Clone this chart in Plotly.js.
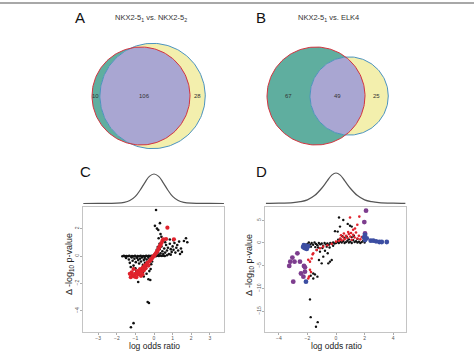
<!DOCTYPE html>
<html>
<head>
<meta charset="utf-8">
<script src="https://cdn.plot.ly/plotly-3.0.1.min.js"></script>
<style>html,body{margin:0;padding:0;background:#fff;}#chart{width:474px;height:352px;}</style>
</head>
<body>
<div id="chart"></div>
<script>
// ---------- DATA ----------
const vennACounts = [10, 106, 28];          // only set1, both, only set2
const vennBCounts = [67, 49, 25];
const vennATitle = "NKX2-5<sub>1</sub> vs. NKX2-5<sub>2</sub>";
const vennBTitle = "NKX2-5<sub>1</sub> vs. ELK4";
const panelLetters = ["A", "B", "C", "D"];

const cXTicks = [-3, -2, -1, 0, 1, 2, 3];
const cYTicks = [-4, -2, 0, 2];
const dXTicks = [-4, -2, 0, 2, 4];
const dYTicks = [-15, -10, -5, 0, 5];

const densCX = [-3.8,-3,-2,-1.6,-1.3,-1,-0.75,-0.5,-0.25,0,0.25,0.5,0.75,1,1.3,1.6,2,3,3.76];
const densCY = [0,0.002,0.012,0.04,0.1,0.24,0.45,0.7,0.92,1,0.92,0.7,0.45,0.24,0.1,0.04,0.012,0.002,0];
const densDX = [-4.9,-4,-3,-2.5,-2,-1.5,-1,-0.6,-0.3,0,0.3,0.6,1,1.5,2,2.5,3,4,4.85];
const densDY = [0.005,0.01,0.03,0.06,0.12,0.26,0.5,0.75,0.93,1,0.93,0.75,0.5,0.26,0.12,0.06,0.03,0.01,0.005];

const cBlack = [
 [-1.7,-0.02],[-1.62,0.01],[-1.55,-0.03],[-1.48,0.0],[-1.4,-0.02],[-1.33,0.02],[-1.25,-0.04],[-1.18,0.0],
 [-1.1,-0.03],[-1.02,0.01],[-0.95,-0.05],[-0.88,0.0],[-0.8,-0.02],[-0.72,0.02],[-0.65,-0.04],[-0.58,0.0],
 [-0.5,-0.03],[-0.42,0.01],[-0.35,-0.02],[-0.28,0.02],[-0.2,-0.01],[-0.12,0.01],[-0.05,0.0],[0.02,0.02],
 [0.1,-0.01],[0.18,0.02],[0.26,0.0],[0.34,0.03],[0.42,0.01],[0.5,0.02],[0.58,0.0],
 [-1.5,-0.15],[-1.35,-0.25],[-1.2,-0.1],[-1.15,-0.35],[-1.05,-0.2],[-0.98,-0.45],[-0.9,-0.15],[-0.85,-0.3],
 [-0.8,-0.55],[-0.75,-0.2],[-0.7,-0.4],[-0.65,-0.1],[-0.6,-0.65],[-0.55,-0.3],[-0.5,-0.15],[-0.48,-0.5],
 [-0.45,-0.8],[-0.4,-0.25],[-0.35,-0.45],[-0.3,-0.12],[-0.28,-0.7],[-0.22,-0.3],[-0.18,-0.95],[-0.15,-0.18],
 [-0.1,-0.4],[-0.05,-0.1],[-1.3,-0.5],[-1.1,-0.7],[-1.0,-0.9],[-0.95,-1.1],[-0.7,-1.0],[-0.6,-1.2],
 [-0.4,-1.3],[-0.3,-1.7],[-0.2,-1.75],[-0.85,-1.9],[-0.55,-1.5],[-1.25,-0.8],[-0.15,-0.6],[-0.25,-1.1],
 [-0.34,-3.36],[-0.27,-3.43],[-1.1,-4.9],[-1.24,-5.2],[0.11,3.36],[0.05,2.2],[0.16,2.0],[0.32,2.4],
 [0.23,1.9],[1.72,1.3],[1.79,1.0],[1.61,1.1],
 [0.1,0.15],[0.2,0.3],[0.25,0.1],[0.3,0.5],[0.35,0.2],[0.4,0.7],[0.45,0.35],[0.5,0.15],[0.55,0.55],
 [0.6,0.25],[0.65,0.8],[0.7,0.4],[0.75,0.6],[0.8,0.15],[0.85,0.9],[0.9,0.5],[0.95,0.3],[1.0,0.7],
 [1.05,0.45],[1.1,0.95],[1.15,0.25],[1.2,0.6],[1.25,0.8],[1.3,0.4],[1.35,1.05],[1.45,0.55],[1.5,0.3],
 [0.6,1.0],[0.45,1.1],[0.3,0.9],[0.2,0.65],[0.15,0.45],[1.05,1.15],[0.85,1.2],[0.4,1.4],[0.25,1.3],
 [0.35,1.6],[0.9,0.1],[1.4,0.15],[0.7,0.05]
];
const cRed = [
 [-1.25,-1.55],[-1.15,-1.4],[-1.2,-1.2],[-1.05,-1.5],[-1.0,-1.3],[-0.95,-1.55],[-0.9,-1.1],[-0.85,-1.35],
 [-0.8,-1.2],[-0.75,-0.95],[-0.7,-1.45],[-0.68,-1.15],[-0.6,-0.85],[-0.55,-1.05],[-0.5,-0.7],[-0.45,-0.9],
 [-0.4,-0.6],[-0.35,-0.5],[-0.3,-0.7],[-0.25,-0.4],[-0.2,-0.3],[-0.15,-0.25],[-0.1,-0.15],[-0.05,-0.05],
 [0.0,0.0],[0.05,0.1],[0.1,0.2],[0.15,0.3],[0.2,0.4],[0.25,0.55],[0.3,0.7],[0.35,0.8],[0.4,0.95],
 [0.45,1.1],[0.5,1.22],[0.65,1.24],[1.07,1.22],[0.72,2.07],[-1.1,-0.95],[-1.3,-1.3],[-0.62,-1.35]
];

const dBlack = [
 [-2.0,-0.2],[-1.9,0.1],[-1.8,-0.3],[-1.7,0.0],[-1.6,-0.4],[-1.5,0.1],[-1.4,-0.2],[-1.3,-0.5],[-1.2,0.0],
 [-1.1,-0.3],[-1.0,-0.1],[-0.9,-0.6],[-0.8,0.0],[-0.7,-0.3],[-0.6,-0.1],[-0.5,-0.4],[-0.4,0.0],[-0.3,-0.2],
 [-0.2,0.1],[-0.1,-0.1],[0.0,0.0],[0.1,0.2],[0.2,0.0],[0.3,0.3],[0.4,0.1],[0.5,0.4],[0.6,0.0],[0.7,0.2],
 [0.8,0.5],[0.9,0.1],[1.0,0.3],[1.1,0.0],[1.2,0.6],[1.3,0.2],[1.4,0.4],[1.5,0.1],[1.6,0.3],[1.7,0.0],
 [1.8,0.2],[1.9,0.5],[2.0,0.1],
 [-1.75,-0.8],[-1.45,-0.9],[-1.25,-1.0],[-0.95,-1.1],[-0.65,-0.8],[-0.45,-1.0],[-0.2,-0.6],[0.3,0.9],
 [0.6,1.1],[0.9,0.8],[1.1,1.3],[1.5,0.9],[0.15,0.7],[0.45,1.5],[0.75,1.4],[1.25,1.6],
 [0.21,5.6],[0.51,5.05],[0.82,4.2],[0.98,3.8],[1.1,3.6],[-0.07,2.6],[0.12,2.5],[0.28,3.6],[-1.35,-1.54],
 [-1.12,-1.9],[-0.77,-1.7],[-0.58,-2.26],[-0.89,-3.0],[-0.3,-3.74],[-0.54,-4.47],[-1.19,-3.74],[-1.0,-4.47],
 [-0.42,-4.1],[-1.47,-6.9],[-1.3,-7.4],[-1.77,-7.2],[-1.59,-6.7],[-1.59,-7.8],[-1.82,-12.4],[-1.77,-16.3],
 [-1.28,-17.4],[-1.4,-18.4]
];
const dRed = [
 [-1.94,-7.8],[-1.89,-7.4],[-1.75,-6.4],[-1.82,-5.9],[-1.94,-3.7],[-1.82,-4.1],[-1.7,-3.4],[-1.63,-2.5],
 [-1.59,-2.26],[-1.35,-1.54],[-1.12,-1.17],[-0.9,-0.8],[-0.6,-0.5],[-0.3,-0.2],[0.0,0.3],[0.2,0.5],[0.3,1.0],
 [0.4,0.6],[0.5,1.3],[0.6,0.8],[0.7,1.6],[0.8,1.1],[0.9,2.0],[1.0,1.4],[1.1,0.7],[1.2,1.8],[1.3,1.2],
 [1.4,2.3],[1.5,1.0],[1.6,1.6],[1.7,0.8],[1.8,1.3],[0.55,2.1],[0.85,2.4],[1.05,2.2],[0.35,1.7],[0.98,5.6],
 [1.63,5.8],[1.49,4.0],[1.33,3.2],[1.2,2.9]
];
const dPurple = [
 [-3.05,-3.2],[-3.2,-4.1],[-3.27,-5.05],[-2.9,-4.1],[-2.52,-4.1],[-2.7,-2.26],[-2.24,-5.05],[-2.17,-5.35],
 [-2.45,-6.7],[-2.99,-8.5],[-2.28,-7.4],[-2.17,-6.3],[2.1,7.1],[1.98,4.6],[2.03,2.1]
];
const dBlue = [
 [-2.25,-0.5],[-2.1,-0.6],[-2.0,-0.9],[-2.2,-1.1],[-2.05,-1.3],[-1.95,-0.7],[-2.3,-0.9],[-2.1,-8.5],
 [1.96,1.25],[2.03,0.66],[2.43,0.5],[2.61,0.5],[2.8,0.37],[3.03,0.22],[3.2,0.22],[3.55,0.22],[2.15,1.03],[2.03,1.76]
];

// ---------- HELPERS ----------
const W = 474, H = 352;
const px = v => v / W, py = v => 1 - v / H;
const col = (arr, i) => arr.map(p => p[i]);

function lensArea(d, r1, r2) {
  if (d >= r1 + r2) return 0;
  if (d <= Math.abs(r1 - r2)) return Math.PI * Math.min(r1, r2) ** 2;
  const a1 = r1 * r1 * Math.acos((d * d + r1 * r1 - r2 * r2) / (2 * d * r1));
  const a2 = r2 * r2 * Math.acos((d * d + r2 * r2 - r1 * r1) / (2 * d * r2));
  const t = 0.5 * Math.sqrt((-d + r1 + r2) * (d + r1 - r2) * (d - r1 + r2) * (d + r1 + r2));
  return a1 + a2 - t;
}
function vennGeom(counts, cx1, cy, scale) {
  const n1 = counts[0] + counts[1], n2 = counts[1] + counts[2];
  const r1 = scale * Math.sqrt(n1), r2 = scale * Math.sqrt(n2);
  const target = Math.PI * scale * scale * counts[1];
  let lo = Math.abs(r1 - r2) + 1e-6, hi = r1 + r2 - 1e-6;
  for (let i = 0; i < 80; i++) {
    const m = (lo + hi) / 2;
    if (lensArea(m, r1, r2) > target) lo = m; else hi = m;
  }
  const d = (lo + hi) / 2;
  return {cx1, cx2: cx1 + d, cy, r1, r2, d};
}
function circlePts(cx, cy, r) {
  const xs = [], ys = [];
  for (let i = 0; i <= 180; i++) { const t = 2 * Math.PI * i / 180; xs.push(cx + r * Math.cos(t)); ys.push(cy + r * Math.sin(t)); }
  return [xs, ys];
}
function lensPts(g) {
  const a = (g.d * g.d + g.r1 * g.r1 - g.r2 * g.r2) / (2 * g.d);
  const h = Math.sqrt(g.r1 * g.r1 - a * a);
  const t1 = Math.atan2(h, a), t2 = Math.atan2(h, g.d - a);
  const xs = [], ys = [];
  for (let i = 0; i <= 90; i++) { const t = -t1 + 2 * t1 * i / 90; xs.push(g.cx1 + g.r1 * Math.cos(t)); ys.push(g.cy + g.r1 * Math.sin(t)); }
  for (let i = 0; i <= 90; i++) { const t = Math.PI - t2 + 2 * t2 * i / 90; xs.push(g.cx2 + g.r2 * Math.cos(t)); ys.push(g.cy + g.r2 * Math.sin(t)); }
  return [xs, ys];
}

const TEAL = "#5fae9f", YEL = "#f3efad", PURP = "#a9a6d2", REDL = "#d3343f", BLUEL = "#4b93bf";
const scale = 49 / Math.sqrt(116);
const gA = vennGeom(vennACounts, 141, 96, scale);
const gB = vennGeom(vennBCounts, 316, 96, scale);

const traces = [];
function addVenn(g) {
  const c1 = circlePts(g.cx1, g.cy, g.r1), c2 = circlePts(g.cx2, g.cy, g.r2), l = lensPts(g);
  const base = {type: "scatter", mode: "lines", xaxis: "x3", yaxis: "y3", hoverinfo: "skip", showlegend: false};
  traces.push(Object.assign({}, base, {x: c1[0], y: c1[1], fill: "toself", fillcolor: TEAL, line: {width: 0, color: TEAL}}));
  traces.push(Object.assign({}, base, {x: c2[0], y: c2[1], fill: "toself", fillcolor: YEL, line: {width: 0, color: YEL}}));
  traces.push(Object.assign({}, base, {x: l[0], y: l[1], fill: "toself", fillcolor: PURP, line: {width: 0, color: PURP}}));
  traces.push(Object.assign({}, base, {x: c2[0], y: c2[1], line: {width: 1, color: BLUEL}}));
  traces.push(Object.assign({}, base, {x: c1[0], y: c1[1], line: {width: 1, color: REDL}}));
}
addVenn(gA);
addVenn(gB);

function vennLabels(g, counts) {
  const leftX = ((g.cx1 - g.r1) + (g.cx2 - g.r2)) / 2;
  const rightX = ((g.cx1 + g.r1) + (g.cx2 + g.r2)) / 2;
  const midX = (Math.max(g.cx1 - g.r1, g.cx2 - g.r2) + Math.min(g.cx1 + g.r1, g.cx2 + g.r2)) / 2;
  return [leftX, midX, rightX].map((x, i) => ({
    x: x, y: g.cy, xref: "x3", yref: "y3", text: String(counts[i]), showarrow: false,
    font: {size: 6, color: "#333", family: "Liberation Sans, Arial, sans-serif"}, xanchor: "center", yanchor: "middle"
  }));
}

// scatter C
const sc = {type: "scatter", mode: "markers", hoverinfo: "skip", showlegend: false};
traces.push(Object.assign({}, sc, {x: col(cBlack, 0), y: col(cBlack, 1), xaxis: "x", yaxis: "y", marker: {size: 2.6, color: "#111"}}));
traces.push(Object.assign({}, sc, {x: col(cRed, 0), y: col(cRed, 1), xaxis: "x", yaxis: "y", marker: {size: 4.2, color: "#e0222c"}}));
// scatter D
traces.push(Object.assign({}, sc, {x: col(dBlack, 0), y: col(dBlack, 1), xaxis: "x2", yaxis: "y2", marker: {size: 2.4, color: "#111"}}));
traces.push(Object.assign({}, sc, {x: col(dRed, 0), y: col(dRed, 1), xaxis: "x2", yaxis: "y2", marker: {size: 2.6, color: "#e0222c"}}));
traces.push(Object.assign({}, sc, {x: col(dPurple, 0), y: col(dPurple, 1), xaxis: "x2", yaxis: "y2", marker: {size: 4.8, color: "#7d3d8e"}}));
traces.push(Object.assign({}, sc, {x: col(dBlue, 0), y: col(dBlue, 1), xaxis: "x2", yaxis: "y2", marker: {size: 4.8, color: "#3c4ea2"}}));
// densities
traces.push({type: "scatter", mode: "lines", x: densCX, y: densCY, xaxis: "x5", yaxis: "y5", line: {color: "#555", width: 1.2, shape: "spline"}, hoverinfo: "skip", showlegend: false});
traces.push({type: "scatter", mode: "lines", x: densDX, y: densDY, xaxis: "x6", yaxis: "y6", line: {color: "#555", width: 1.2, shape: "spline"}, hoverinfo: "skip", showlegend: false});

const FONT = "Liberation Sans, Arial, sans-serif";
const scatAxis = (domain, range, tickvals, angle) => ({
  domain: domain, range: range, tickvals: tickvals, ticks: "outside", ticklen: 2, tickwidth: 0.8, tickcolor: "#999",
  tickfont: {size: 5, color: "#555", family: FONT}, tickangle: angle, ticklabelstandoff: -1, showline: true, mirror: true, linecolor: "#c4c4c4",
  linewidth: 1, showgrid: false, zeroline: false, fixedrange: true
});
const hid = (domain, range) => ({domain: domain, range: range, visible: false, fixedrange: true, showgrid: false, zeroline: false});

const cXDom = [px(83), px(224)], dXDom = [px(265), px(406)];
const scYDom = [py(332), py(207)];
const denYDom = [py(205), py(170)];

const layout = {
  width: W, height: H, margin: {l: 0, r: 0, t: 0, b: 0}, paper_bgcolor: "#fff", plot_bgcolor: "rgba(0,0,0,0)",
  showlegend: false, font: {family: FONT},
  xaxis: Object.assign(scatAxis(cXDom, [-3.817, 3.763], cXTicks, 0), {anchor: "y"}),
  yaxis: Object.assign(scatAxis(scYDom, [-5.547, 3.577], cYTicks, -90), {anchor: "x"}),
  xaxis2: Object.assign(scatAxis(dXDom, [-4.965, 4.895], dXTicks, 0), {anchor: "y2"}),
  yaxis2: Object.assign(scatAxis(scYDom, [-19.56, 7.91], dYTicks, -90), {anchor: "x2"}),
  xaxis3: Object.assign(hid([0, 1], [0, W]), {anchor: "y3"}),
  yaxis3: Object.assign(hid([0, 1], [H, 0]), {anchor: "x3"}),
  xaxis5: Object.assign(hid(cXDom, [-3.817, 3.763]), {anchor: "y5"}),
  yaxis5: Object.assign(hid(denYDom, [-0.051, 1.136]), {anchor: "x5"}),
  xaxis6: Object.assign(hid(dXDom, [-4.965, 4.895]), {anchor: "y6"}),
  yaxis6: Object.assign(hid(denYDom, [-0.049, 1.098]), {anchor: "x6"}),
  shapes: [
    {type: "line", xref: "paper", yref: "paper", x0: 0, x1: 1, y0: py(3), y1: py(3), line: {color: "#a8a8a8", width: 2}}
  ],
  annotations: [
    {text: panelLetters[0], x: px(80), y: py(17)},
    {text: panelLetters[1], x: px(261), y: py(17)},
    {text: panelLetters[2], x: px(85), y: py(171)},
    {text: panelLetters[3], x: px(261), y: py(171)}
  ].map(a => Object.assign(a, {xref: "paper", yref: "paper", showarrow: false, xanchor: "center", yanchor: "middle",
      font: {size: 15, color: "#111", family: FONT}})).concat([
    {text: vennATitle, x: px(151), y: py(18)},
    {text: vennBTitle, x: px(328), y: py(18)}
  ].map(a => Object.assign(a, {xref: "paper", yref: "paper", showarrow: false, xanchor: "center", yanchor: "middle",
      font: {size: 7.5, color: "#333", family: FONT}}))).concat([
    {text: "log odds ratio", x: px(154), y: py(346), textangle: 0, font: {size: 8.5, color: "#222", family: FONT}},
    {text: "log odds ratio", x: px(336), y: py(346), textangle: 0, font: {size: 8.5, color: "#222", family: FONT}},
    {text: "Δ -log<sub>10</sub> p-value", x: px(69), y: py(264), textangle: -90, font: {size: 9, color: "#222", family: FONT}},
    {text: "Δ -log<sub>10</sub> p-value", x: px(249), y: py(265), textangle: -90, font: {size: 9, color: "#222", family: FONT}}
  ].map(a => Object.assign(a, {xref: "paper", yref: "paper", showarrow: false, xanchor: "center", yanchor: "middle"}))).concat(vennLabels(gA, vennACounts)).concat(vennLabels(gB, vennBCounts))
};

Plotly.newPlot("chart", traces, layout, {staticPlot: true, displayModeBar: false});
</script>
</body>
</html>
